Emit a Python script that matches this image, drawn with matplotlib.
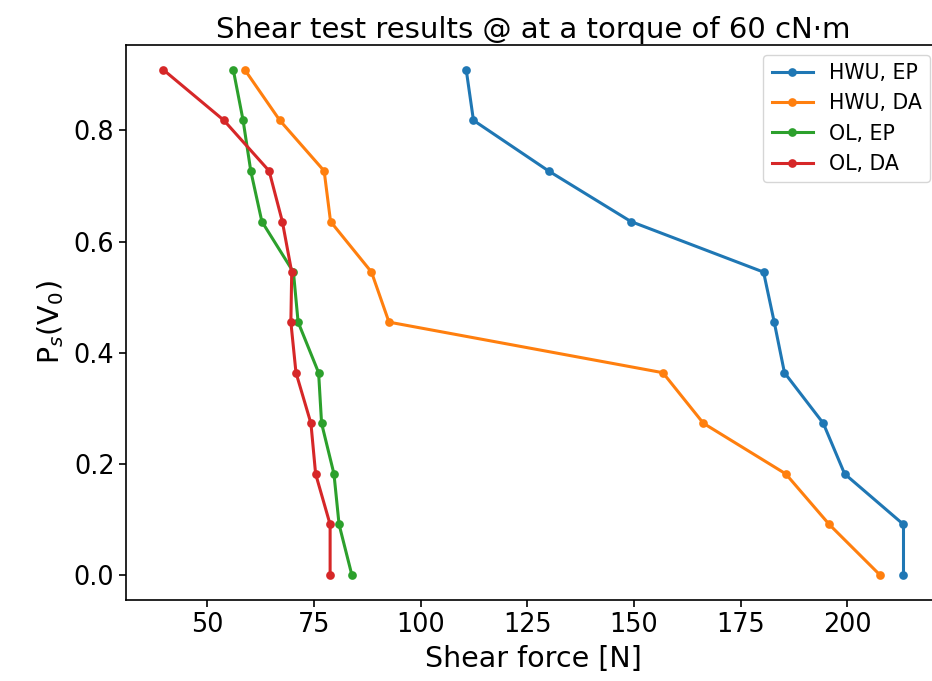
import matplotlib

matplotlib.use("Agg")
import matplotlib.pyplot as plt

# share of surviving specimens, P_s(V_0)
ps = [0.0, 0.091, 0.182, 0.273, 0.364, 0.455, 0.545, 0.636, 0.727, 0.818, 0.909]

# shear force [N] for each P_s level
hwu_ep = [213.2, 213.2, 199.4, 194.4, 185.3, 182.9, 180.4, 149.3, 130.0, 112.4, 110.7]
hwu_da = [207.7, 195.8, 185.6, 166.3, 156.8, 92.6, 88.5, 78.9, 77.4, 67.0, 58.8]
ol_ep = [83.9, 80.9, 79.7, 76.8, 76.1, 71.3, 70.2, 62.8, 60.2, 58.4, 56.1]
ol_da = [78.8, 78.8, 75.4, 74.3, 70.8, 69.6, 69.8, 67.6, 64.5, 53.9, 39.7]

series = [
    ("HWU, EP", hwu_ep),
    ("HWU, DA", hwu_da),
    ("OL, EP", ol_ep),
    ("OL, DA", ol_da),
]


def main() -> None:
    fig = plt.figure(figsize=(9.32, 6.81), dpi=100)
    ax = fig.add_axes([126.3 / 932, 80.7 / 681, 814.2 / 932, 555.8 / 681])

    for label, force in series:
        ax.plot(force, ps, marker=".", markersize=9.5, markeredgewidth=1.5,
                linewidth=2.2, label=label)

    ax.set_title("Shear test results @ at a torque of 60 cN\u00b7m", fontsize=21, pad=4)
    ax.set_xlabel("Shear force [N]", fontsize=20.5, labelpad=5)
    ax.set_ylabel(r"P$_s$(V$_0$)", fontsize=20.5, labelpad=6)
    ax.tick_params(labelsize=18.4, length=5, width=1.2)
    for sp in ax.spines.values():
        sp.set_linewidth(1.2)
    ax.legend(loc="upper right", fontsize=14.8)

    fig.savefig("out.png", dpi=100)


if __name__ == "__main__":
    main()
